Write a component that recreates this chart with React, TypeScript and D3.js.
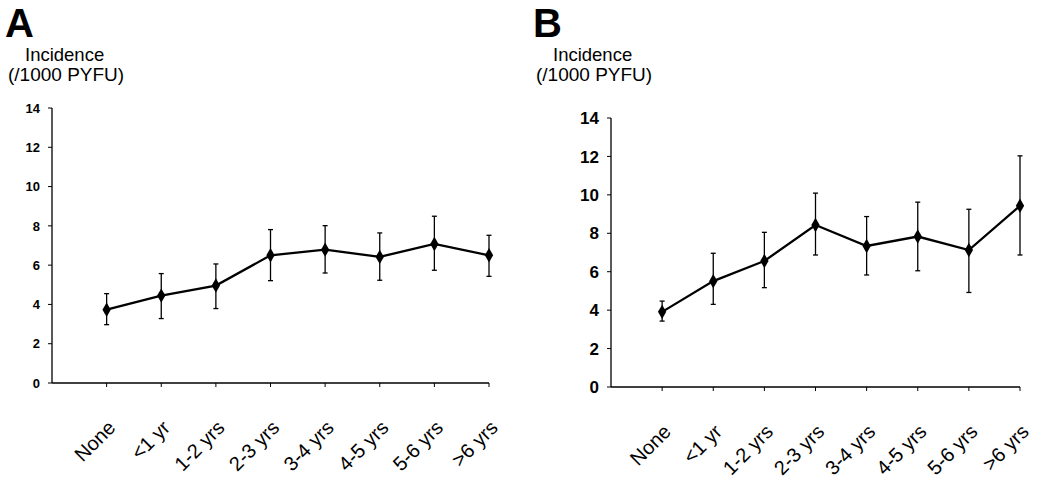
import React from 'react';
import * as d3 from 'd3';

const categories = ['None', '<1 yr', '1-2 yrs', '2-3 yrs', '3-4 yrs', '4-5 yrs', '5-6 yrs', '>6 yrs'];
const yTicks = [0, 2, 4, 6, 8, 10, 12, 14];

// Panel A
const incidenceA = [3.73, 4.45, 4.96, 6.5, 6.79, 6.42, 7.08, 6.5];
const lowerA = [2.97, 3.28, 3.79, 5.21, 5.6, 5.23, 5.74, 5.43];
const upperA = [4.55, 5.57, 6.06, 7.81, 8.01, 7.64, 8.49, 7.52];

// Panel B
const incidenceB = [3.91, 5.51, 6.56, 8.43, 7.34, 7.83, 7.13, 9.43];
const lowerB = [3.43, 4.3, 5.17, 6.87, 5.83, 6.05, 4.92, 6.87];
const upperB = [4.47, 6.96, 8.05, 10.09, 8.87, 9.62, 9.25, 12.03];

const FONT = '"Liberation Sans", Arial, Helvetica, sans-serif';

interface PanelProps {
  letter: string;
  values: number[];
  lower: number[];
  upper: number[];
  left: number;
  right: number;
  top: number;
  bottom: number;
  tickFont: number;
  titleX: number;
}

const Panel: React.FC<PanelProps> = ({ letter, values, lower, upper, left, right, top, bottom, tickFont, titleX }) => {
  // axis starts one category step before the first point
  const x = d3.scaleLinear().domain([-1, categories.length - 1]).range([left, right]);
  const y = d3.scaleLinear().domain([0, 14]).range([bottom, top]);

  const line = d3.line<number>()
    .x((_, i) => x(i))
    .y(d => y(d));

  const diamond = d3.symbol().type(d3.symbolDiamond).size(60)();

  return (
    <g fontFamily={FONT}>
      <text x={titleX} y={37} fontSize={40} fontWeight="bold">{letter}</text>
      <text x={titleX + 20} y={61} fontSize={18.5}>Incidence</text>
      <text x={titleX + 3} y={81} fontSize={19}>(/1000 PYFU)</text>

      {/* y axis */}
      <line x1={left} x2={left} y1={top} y2={bottom} stroke="#000" strokeWidth={1.3} />
      {yTicks.map(t => (
        <g key={t}>
          <line x1={left - 4} x2={left} y1={y(t)} y2={y(t)} stroke="#000" strokeWidth={1} />
          <text x={left - 12} y={y(t)} dy="0.36em" textAnchor="end" fontSize={tickFont} fontWeight="bold">{t}</text>
        </g>
      ))}

      {/* x axis */}
      <line x1={left} x2={right} y1={bottom} y2={bottom} stroke="#000" strokeWidth={1.3} />
      {categories.map((c, i) => (
        <g key={c}>
          <line x1={x(i)} x2={x(i)} y1={bottom} y2={bottom + 4} stroke="#000" strokeWidth={1} />
          <text
            transform={`translate(${x(i) + 10},${bottom + 46}) rotate(-45)`}
            textAnchor="end"
            fontSize={20}
          >{c}</text>
        </g>
      ))}

      {/* error bars */}
      {values.map((_, i) => (
        <g key={i} stroke="#000" strokeWidth={1.3}>
          <line x1={x(i)} x2={x(i)} y1={y(lower[i])} y2={y(upper[i])} />
          <line x1={x(i) - 2.5} x2={x(i) + 2.5} y1={y(lower[i])} y2={y(lower[i])} />
          <line x1={x(i) - 2.5} x2={x(i) + 2.5} y1={y(upper[i])} y2={y(upper[i])} />
        </g>
      ))}

      <path d={line(values) ?? ''} fill="none" stroke="#000" strokeWidth={2.3} />
      {values.map((v, i) => (
        <path key={i} d={diamond ?? ''} transform={`translate(${x(i)},${y(v)})`} fill="#000" />
      ))}
    </g>
  );
};

export default function App() {
  return (
    <svg
      width={1050}
      height={482}
      style={{ position: 'absolute', left: 0, top: 0, background: '#fff' }}
    >
      <rect width={1050} height={482} fill="#fff" />
      <Panel letter="A" values={incidenceA} lower={lowerA} upper={upperA}
        left={52} right={489} top={108} bottom={383} tickFont={13} titleX={5} />
      <Panel letter="B" values={incidenceB} lower={lowerB} upper={upperB}
        left={611} right={1020} top={118} bottom={387} tickFont={17} titleX={533} />
    </svg>
  );
}
